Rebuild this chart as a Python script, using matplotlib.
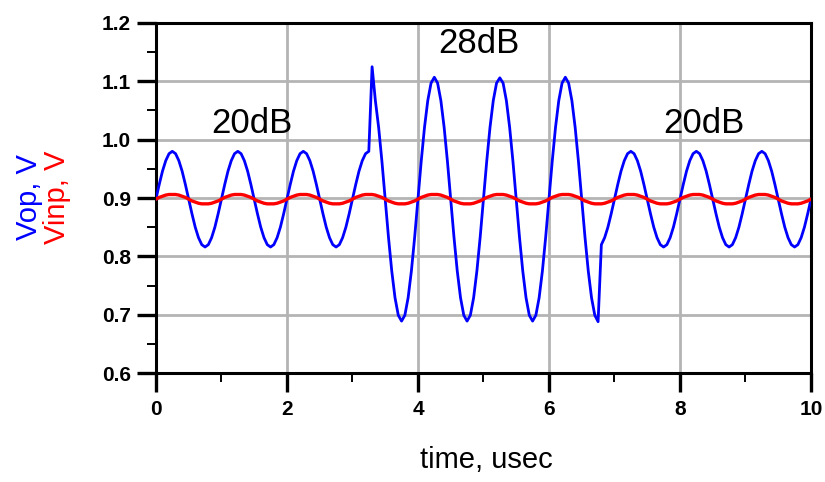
import numpy as np
import matplotlib
matplotlib.use("Agg")
import matplotlib.pyplot as plt
from matplotlib.ticker import MultipleLocator

plt.rcParams['font.family'] = ['Liberation Sans', 'DejaVu Sans']

# Sample grid, 0.05 usec steps over 0..10 usec
time_us = np.linspace(0, 10, 201)

# Output voltage Vop (V), one row per half microsecond
vop = [
    0.898, 0.923, 0.946, 0.964, 0.976, 0.980, 0.976, 0.964, 0.946, 0.923,
    0.898, 0.873, 0.850, 0.832, 0.820, 0.816, 0.820, 0.832, 0.850, 0.873,
    0.898, 0.923, 0.946, 0.964, 0.976, 0.980, 0.976, 0.964, 0.946, 0.923,
    0.898, 0.873, 0.850, 0.832, 0.820, 0.816, 0.820, 0.832, 0.850, 0.873,
    0.898, 0.923, 0.946, 0.964, 0.976, 0.980, 0.976, 0.964, 0.946, 0.923,
    0.898, 0.873, 0.850, 0.832, 0.820, 0.816, 0.820, 0.832, 0.850, 0.873,
    0.898, 0.923, 0.946, 0.964, 0.976, 0.980, 1.125, 1.067, 1.021, 0.963,
    0.898, 0.833, 0.775, 0.729, 0.699, 0.689, 0.699, 0.729, 0.775, 0.833,
    0.898, 0.963, 1.021, 1.067, 1.097, 1.107, 1.097, 1.067, 1.021, 0.963,
    0.898, 0.833, 0.775, 0.729, 0.699, 0.689, 0.699, 0.729, 0.775, 0.833,
    0.898, 0.963, 1.021, 1.067, 1.097, 1.106, 1.097, 1.067, 1.021, 0.963,
    0.898, 0.833, 0.775, 0.729, 0.699, 0.689, 0.699, 0.729, 0.775, 0.833,
    0.898, 0.963, 1.021, 1.067, 1.097, 1.107, 1.097, 1.067, 1.021, 0.963,
    0.898, 0.833, 0.775, 0.729, 0.699, 0.688, 0.820, 0.832, 0.850, 0.873,
    0.898, 0.923, 0.946, 0.964, 0.976, 0.980, 0.976, 0.964, 0.946, 0.923,
    0.898, 0.873, 0.850, 0.832, 0.820, 0.816, 0.820, 0.832, 0.850, 0.873,
    0.898, 0.923, 0.946, 0.964, 0.976, 0.980, 0.976, 0.964, 0.946, 0.923,
    0.898, 0.873, 0.850, 0.832, 0.820, 0.816, 0.820, 0.832, 0.850, 0.873,
    0.898, 0.923, 0.946, 0.964, 0.976, 0.980, 0.976, 0.964, 0.946, 0.923,
    0.898, 0.873, 0.850, 0.832, 0.820, 0.816, 0.820, 0.832, 0.850, 0.873,
    0.898,
]

# Input voltage Vinp (V)
vinp = [
    0.898, 0.901, 0.903, 0.905, 0.906, 0.906, 0.906, 0.905, 0.903, 0.901,
    0.898, 0.895, 0.893, 0.891, 0.890, 0.890, 0.890, 0.891, 0.893, 0.895,
    0.898, 0.901, 0.903, 0.905, 0.906, 0.906, 0.906, 0.905, 0.903, 0.901,
    0.898, 0.895, 0.893, 0.891, 0.890, 0.890, 0.890, 0.891, 0.893, 0.895,
    0.898, 0.901, 0.903, 0.905, 0.906, 0.906, 0.906, 0.905, 0.903, 0.901,
    0.898, 0.895, 0.893, 0.891, 0.890, 0.890, 0.890, 0.891, 0.893, 0.895,
    0.898, 0.901, 0.903, 0.905, 0.906, 0.906, 0.906, 0.905, 0.903, 0.901,
    0.898, 0.895, 0.893, 0.891, 0.890, 0.890, 0.890, 0.891, 0.893, 0.895,
    0.898, 0.901, 0.903, 0.905, 0.906, 0.906, 0.906, 0.905, 0.903, 0.901,
    0.898, 0.895, 0.893, 0.891, 0.890, 0.890, 0.890, 0.891, 0.893, 0.895,
    0.898, 0.901, 0.903, 0.905, 0.906, 0.906, 0.906, 0.905, 0.903, 0.901,
    0.898, 0.895, 0.893, 0.891, 0.890, 0.890, 0.890, 0.891, 0.893, 0.895,
    0.898, 0.901, 0.903, 0.905, 0.906, 0.906, 0.906, 0.905, 0.903, 0.901,
    0.898, 0.895, 0.893, 0.891, 0.890, 0.890, 0.890, 0.891, 0.893, 0.895,
    0.898, 0.901, 0.903, 0.905, 0.906, 0.906, 0.906, 0.905, 0.903, 0.901,
    0.898, 0.895, 0.893, 0.891, 0.890, 0.890, 0.890, 0.891, 0.893, 0.895,
    0.898, 0.901, 0.903, 0.905, 0.906, 0.906, 0.906, 0.905, 0.903, 0.901,
    0.898, 0.895, 0.893, 0.891, 0.890, 0.890, 0.890, 0.891, 0.893, 0.895,
    0.898, 0.901, 0.903, 0.905, 0.906, 0.906, 0.906, 0.905, 0.903, 0.901,
    0.898, 0.895, 0.893, 0.891, 0.890, 0.890, 0.890, 0.891, 0.893, 0.895,
    0.898,
]

x_ticks = [0, 2, 4, 6, 8, 10]
y_ticks = [0.6, 0.7, 0.8, 0.9, 1.0, 1.1, 1.2]

# Gain annotations: (label, time, voltage)
gain_labels = [("20dB", 1.47, 1.011), ("28dB", 4.93, 1.149), ("20dB", 8.37, 1.011)]

fig = plt.figure(figsize=(8.25, 4.82), dpi=100)
ax = fig.add_axes([0.189, 0.2261, 0.794, 0.7262])

ax.plot(time_us, vop, color="#0000ff", lw=2.0, zorder=3)
ax.plot(time_us, vinp, color="#ff0000", lw=2.4, zorder=4)

ax.set_xlim(0, 10)
ax.set_ylim(0.6, 1.2)
ax.set_xticks(x_ticks)
ax.set_xticklabels([str(v) for v in x_ticks])
ax.set_yticks(y_ticks)
ax.set_yticklabels([f"{v:.1f}" for v in y_ticks])
ax.xaxis.set_minor_locator(MultipleLocator(1))
ax.yaxis.set_minor_locator(MultipleLocator(0.05))
for lbl in ax.get_xticklabels() + ax.get_yticklabels():
    lbl.set_fontweight("bold")

ax.grid(True, which="major", color="#b4b4b4", lw=2.0, zorder=1)
ax.set_axisbelow(True)

for sp in ax.spines.values():
    sp.set_linewidth(2.2)
    sp.set_color("black")

ax.tick_params(which="major", direction="out", length=13.7, width=2.4,
               labelsize=15, color="black")
ax.tick_params(axis="x", which="major", pad=5.8)
ax.tick_params(axis="y", which="major", pad=4.3)
ax.tick_params(which="minor", direction="out", length=6.5, width=1.4,
               color="black")

for text, tx, ty in gain_labels:
    ax.text(tx, ty, text, fontsize=25, ha="center", va="baseline", zorder=5)

fig.text(0.590, 1 - 468 / 482, "time, usec", fontsize=21, ha="center",
         va="baseline")
fig.text(29 / 825, 1 - 197 / 482, "Vop, V", fontsize=21, color="#0000ff",
         rotation=90, ha="center", va="center")
fig.text(57 / 825, 1 - 197 / 482, "Vinp, V", fontsize=21, color="#ff0000",
         rotation=90, ha="center", va="center")

fig.savefig("out.png", dpi=100)
